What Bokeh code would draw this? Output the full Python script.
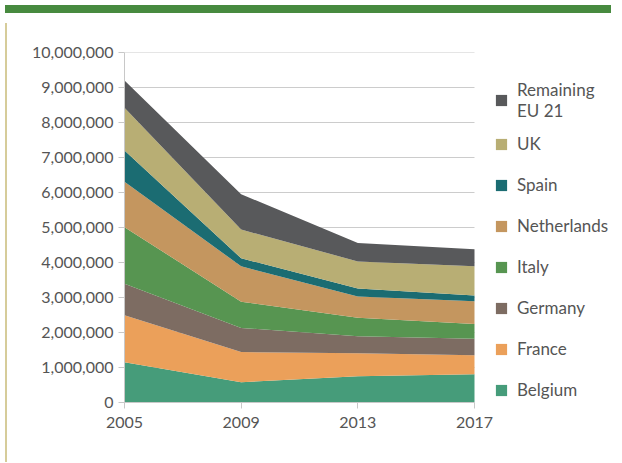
from bokeh.plotting import figure
from bokeh.models import Legend, LegendItem, FixedTicker, NumeralTickFormatter, Range1d, Div
from bokeh.layouts import column, row
from bokeh.embed import file_html
from bokeh.resources import INLINE

years = [2005, 2009, 2013, 2017]
countries = ["Belgium", "France", "Germany", "Italy", "Netherlands", "Spain", "UK", "Remaining EU 21"]
belgium = [1150000, 580000, 750000, 810000]
france = [1340000, 860000, 660000, 540000]
germany = [900000, 690000, 480000, 470000]
italy = [1620000, 750000, 530000, 420000]
netherlands = [1300000, 1010000, 610000, 650000]
spain = [890000, 230000, 230000, 170000]
uk = [1220000, 820000, 770000, 830000]
remaining = [780000, 1010000, 530000, 490000]
y_ticks = [0, 1000000, 2000000, 3000000, 4000000, 5000000, 6000000, 7000000, 8000000, 9000000, 10000000]

series = [belgium, france, germany, italy, netherlands, spain, uk, remaining]
colors = ["#469c7a", "#eba05a", "#7d6c62", "#579551", "#c4965f", "#1b6c72", "#b8ae74", "#58595b"]

# layout (pixels)
fig_w, fig_h = 604, 439
left_b, top_b, bottom_b = 112, 34, 55
plot_w = 350                       # width of the data area (2005..2017)
frame_w = fig_w - left_b           # frame extends to the right edge to host the legend
x_end = years[0] + (years[-1] - years[0]) * frame_w / plot_w

p = figure(width=fig_w, height=fig_h, output_backend="svg", toolbar_location=None,
           x_range=Range1d(years[0], x_end), y_range=Range1d(0, y_ticks[-1]),
           min_border_left=left_b, min_border_right=0, min_border_top=top_b, min_border_bottom=bottom_b)
p.outline_line_color = None
p.background_fill_color = "white"
p.border_fill_color = "white"

# horizontal grid lines limited to the data area
p.segment(x0=[years[0]] * len(y_ticks), x1=[years[-1]] * len(y_ticks), y0=y_ticks, y1=y_ticks,
          line_color="#cccccc", line_width=1)

data = {"x": years}
for name, s in zip(countries, series):
    data[name] = s
renderers = p.varea_stack(stackers=countries, x="x", color=colors, source=data)

font = "Lato"
p.xaxis.ticker = FixedTicker(ticks=years)
p.yaxis.ticker = FixedTicker(ticks=y_ticks)
p.yaxis.formatter = NumeralTickFormatter(format="0,0")
p.xaxis.bounds = (years[0], years[-1])
for ax in (p.xaxis, p.yaxis):
    ax.axis_line_color = "#c8c8c8"
    ax.major_tick_line_color = "#c8c8c8"
    ax.major_tick_out = 6
    ax.major_tick_in = 0
    ax.minor_tick_line_color = None
    ax.major_label_text_font = font
    ax.major_label_text_font_size = "16px"
    ax.major_label_text_color = "#555555"
p.xaxis.major_label_standoff = 8
p.xgrid.grid_line_color = None
p.ygrid.grid_line_color = None

legend_style = dict(margin=0, padding=0, glyph_width=14, glyph_height=14, label_height=21,
                    label_text_font=font, label_text_font_size="17px", label_text_color="#555555",
                    label_text_line_height=1.1,
                    border_line_color=None, background_fill_alpha=0, label_standoff=9)

pairs = list(zip(countries, renderers))
items_main = [LegendItem(label=name, renderers=[r]) for name, r in reversed(pairs[:-1])]
legend_main = Legend(items=items_main, location=(370, 2), spacing=20, **legend_style)
p.add_layout(legend_main, "center")

last_name, last_r = pairs[-1]
legend_top = Legend(items=[LegendItem(label=last_name.replace("EU", "\nEU"), renderers=[last_r])],
                    location=(370, 281), spacing=0, **legend_style)
p.add_layout(legend_top, "center")

top_bar = Div(width=606, height=8, styles={"background-color": "#478a3f"})
left_line = Div(width=2, height=fig_h, styles={"background-color": "#d6cc9a"})
layout = column(top_bar, row(left_line, p, spacing=0), spacing=0)

open("out.html", "w").write(file_html(layout, INLINE))
